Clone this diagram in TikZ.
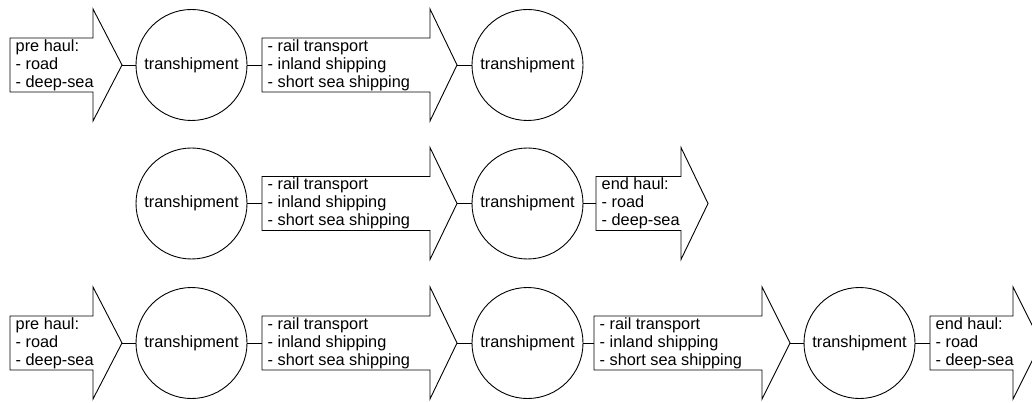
\documentclass[tikz,border=0pt]{standalone}
\usepackage{fontspec}
\setmainfont{Liberation Sans}
\tikzset{
  shp/.style={draw=black, line width=0.9pt, fill=white, line join=miter},
  lbl/.style={align=left, inner xsep=5.5pt, inner ysep=0pt, font=\fontsize{16.3}{18}\selectfont},
  station/.style={circle, draw=black, line width=0.9pt, minimum size=111pt, inner sep=0pt, font=\fontsize{16.3}{18}\selectfont},
  conn/.style={draw=black, line width=0.9pt}
}
% name, body-left x, head-base x, tip x, centre y, text
\newcommand{\hlarrow}[6]{%
  \draw[shp] (#2,#5-27) -- (#3,#5-27) -- (#3,#5-56) -- (#4,#5) -- (#3,#5+56) -- (#3,#5+27) -- (#2,#5+27) -- cycle;
  \coordinate (#1tail) at (#2,#5);
  \coordinate (#1tip) at (#4,#5);
  \node[lbl, anchor=west] (#1) at (#2,#5) {#6};
}
\begin{document}
\begin{tikzpicture}[x=1pt,y=-1pt]
\fill[white] (0,0) rectangle (1032,403);
\useasboundingbox (0,0) rectangle (1032,403);
\clip (0,0) rectangle (1032,403);
% ---------- row 1 ----------
\hlarrow{pa}{10}{93}{122}{65}{pre haul:\\- road\\- deep-sea}
\node[station] (ca) at (191.5,65) {transhipment};
\hlarrow{ra}{262}{430}{457}{65}{- rail transport\\- inland shipping\\- short sea shipping}
\node[station] (cb) at (527.5,65) {transhipment};
\draw[conn] (patip) -- (ca.west);
\draw[conn] (ca.east) -- (ratail);
\draw[conn] (ratip) -- (cb.west);
% ---------- row 2 ----------
\node[station] (cc) at (191.5,203.5) {transhipment};
\hlarrow{rb}{262}{430}{457}{203.5}{- rail transport\\- inland shipping\\- short sea shipping}
\node[station] (cd) at (527.5,203.5) {transhipment};
\hlarrow{eb}{596}{681}{708}{203.5}{end haul:\\- road\\- deep-sea}
\draw[conn] (cc.east) -- (rbtail);
\draw[conn] (rbtip) -- (cd.west);
\draw[conn] (cd.east) -- (ebtail);
% ---------- row 3 ----------
\hlarrow{pc}{10}{93}{122}{343}{pre haul:\\- road\\- deep-sea}
\node[station] (ce) at (191.5,343) {transhipment};
\hlarrow{rc}{262}{430}{457}{343}{- rail transport\\- inland shipping\\- short sea shipping}
\node[station] (cf) at (527.5,343) {transhipment};
\hlarrow{rd}{594}{762}{790}{343}{- rail transport\\- inland shipping\\- short sea shipping}
\node[station] (cg) at (859.5,343) {transhipment};
\hlarrow{ec}{930}{1013}{1041}{343}{end haul:\\- road\\- deep-sea}
\draw[conn] (pctip) -- (ce.west);
\draw[conn] (ce.east) -- (rctail);
\draw[conn] (rctip) -- (cf.west);
\draw[conn] (cf.east) -- (rdtail);
\draw[conn] (rdtip) -- (cg.west);
\draw[conn] (cg.east) -- (ectail);
\end{tikzpicture}
\end{document}
